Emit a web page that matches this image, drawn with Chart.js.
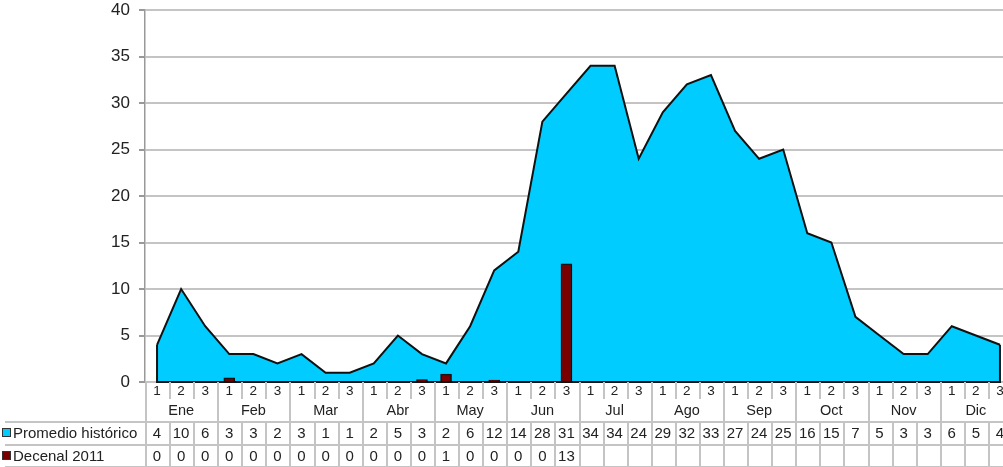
<!DOCTYPE html>
<html><head><meta charset="utf-8">
<script src="https://cdn.jsdelivr.net/npm/chart.js@4.4.1/dist/chart.umd.min.js"></script>
<style>
html,body{margin:0;padding:0;background:#fff;overflow:hidden;width:1003px;height:467px}
#wrap{position:relative;width:1013px;height:467px}
#c{position:absolute;left:0;top:0}
.cell{position:absolute;box-sizing:border-box;display:flex;align-items:center;justify-content:center;font-family:"Liberation Sans",Arial,sans-serif;color:#222;white-space:nowrap;font-size:14px}
.ln{position:absolute;background:#c4c4c4}
.sq{display:inline-block;width:7px;height:7px;border:1px solid #333;margin-right:2px}
</style></head><body>
<div id="wrap"><canvas id="c" width="1013" height="467"></canvas><div id="tbl"></div></div>
<script>
'use strict';
const meses=['Ene','Feb','Mar','Abr','May','Jun','Jul','Ago','Sep','Oct','Nov','Dic'];
const decadas=['1','2','3'];
const promedio=[4,10,6, 3,3,2, 3,1,1, 2,5,3, 2,6,12, 14,28,31, 34,34,24, 29,32,33, 27,24,25, 16,15,7, 5,3,3, 6,5,4];
const decenal2011=[0,0,0, 0.45,0,0, 0,0,0, 0,0,0.25, 0.85,0,0.2, 0,0,12.7];
const yTicks=[0,5,10,15,20,25,30,35,40];
const etiquetas=meses.flatMap(m=>decadas.map(d=>m+' '+d));
const serieBar=etiquetas.map((_,i)=>i<decenal2011.length?decenal2011[i]:null);

const bordeArea={id:'bordeArea',afterDatasetDraw(ch,args){
  if(args.index!==0)return;
  const xs=ch.scales.x,ys=ch.scales.y,c=ch.ctx,n=promedio.length-1;
  const x0=xs.getPixelForValue(0),x1=xs.getPixelForValue(n),yb=ys.getPixelForValue(0);
  c.save();c.strokeStyle='#111';c.lineWidth=2;c.beginPath();
  c.moveTo(x0,ys.getPixelForValue(promedio[0]));c.lineTo(x0,yb);c.lineTo(x1,yb);c.lineTo(x1,ys.getPixelForValue(promedio[n]));
  c.stroke();c.restore();
}};

const ch=new Chart(document.getElementById('c'),{
  data:{labels:etiquetas,datasets:[
    {type:'line',label:'Promedio histórico',data:promedio,order:2,fill:'origin',backgroundColor:'#00ccff',borderColor:'#111',borderWidth:2,pointRadius:0,tension:0},
    {type:'bar',label:'Decenal 2011',data:serieBar,order:1,backgroundColor:'#7a0000',borderColor:'#111',borderWidth:1.5,barThickness:11}
  ]},
  options:{responsive:false,animation:false,
    layout:{padding:{top:10,right:1,bottom:85,left:0}},
    plugins:{legend:{display:false},tooltip:{enabled:false}},
    scales:{
      x:{display:false,offset:true,grid:{display:false}},
      y:{min:0,max:40,afterFit:s=>{s.width=145;s.paddingTop=0;s.paddingBottom=0;},
        afterBuildTicks:s=>{s.ticks=yTicks.map(v=>({value:v}));},
        grid:{color:'#c4c4c4',lineWidth:2,tickLength:6,tickColor:'#999'},
        border:{color:'#999',width:1.5},
        ticks:{padding:9,color:'#222',font:{family:'"Liberation Sans", Arial, sans-serif',size:17}}}
    }
  },
  plugins:[bordeArea]
});

function construirTabla(ch){
  const xs=ch.scales.x,ca=ch.chartArea,tbl=document.getElementById('tbl');
  const w=(ca.right-ca.left)/etiquetas.length;
  const y0=Math.round(ca.bottom);
  const r=[y0,y0+17,y0+39,y0+62,y0+85];
  const add=(cls,l,t,wd,h,html,fs)=>{const d=document.createElement('div');d.className=cls;
    Object.assign(d.style,{left:l+'px',top:t+'px',width:wd+'px',height:h+'px'});if(fs)d.style.fontSize=fs+'px';
    if(html!=null)d.innerHTML=html;tbl.appendChild(d);};
  etiquetas.forEach((_,i)=>{
    const cx=xs.getPixelForValue(i),l=cx-w/2;
    add('cell',l,r[0],w,r[1]-r[0],decadas[i%3],13.5);
    add('cell',l,r[2],w,r[3]-r[2],String(promedio[i]),15);
    if(i<decenal2011.length)add('cell',l,r[3],w,r[4]-r[3],String(Math.round(decenal2011[i])),15);
    if(i%3===1)add('cell',cx-w*1.5,r[1],w*3,r[2]-r[1],meses[(i-1)/3],14.5);
    add('ln',Math.round(l),r[0],1.5,(i%3===0?r[2]:r[1])-r[0]);
    add('ln',Math.round(l),r[2],1.5,r[4]-r[2]);
  });
  add('ln',Math.round(ca.right),r[0],1.5,r[4]-r[0]);
  [r[2],r[3],r[4]-1].forEach(y=>add('ln',5,y,ca.right-5,1.5));
  add('cell',0,r[2],ca.left,r[3]-r[2],'<span class="sq" style="background:#00ccff"></span>Promedio histórico',15);
  add('cell',0,r[3],ca.left,r[4]-r[3],'<span class="sq" style="background:#7a0000"></span>Decenal 2011',15);
  tbl.querySelectorAll('.cell').forEach(d=>{if(d.style.left==='0px'){d.style.justifyContent='flex-start';d.style.paddingLeft='2px';}});
}
construirTabla(ch);
</script>
</body></html>
